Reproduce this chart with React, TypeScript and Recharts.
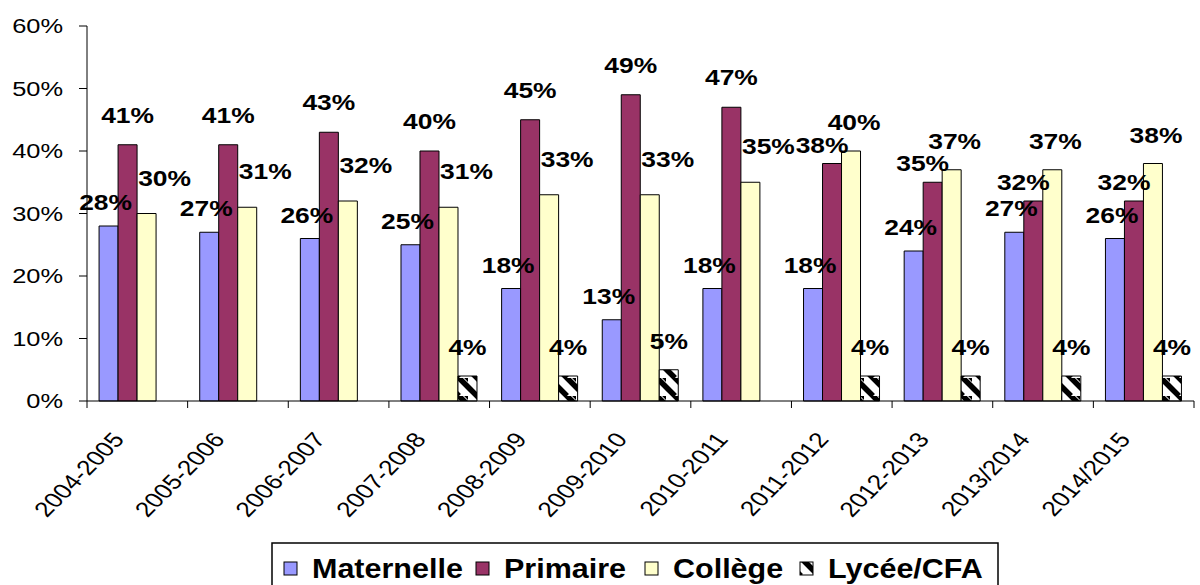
import React from 'react';
import { BarChart, Bar, XAxis, YAxis, LabelList } from 'recharts';

const years = ['2004-2005', '2005-2006', '2006-2007', '2007-2008', '2008-2009', '2009-2010', '2010-2011', '2011-2012', '2012-2013', '2013/2014', '2014/2015'];
const maternelle = [28, 27, 26, 25, 18, 13, 18, 18, 24, 27, 26];
const primaire = [41, 41, 43, 40, 45, 49, 47, 38, 35, 32, 32];
const college = [30, 31, 32, 31, 33, 33, 35, 40, 37, 37, 38];
const lycee = [null, null, null, 4, 4, 5, null, 4, 4, 4, 4];
const yTicks = [0, 10, 20, 30, 40, 50, 60];

const data = years.map((year, i) => ({
  year,
  maternelle: maternelle[i],
  primaire: primaire[i],
  college: college[i],
  lycee: lycee[i],
}));

const FONT = "'Liberation Sans', Arial, sans-serif";
const PLOT_LEFT = 87;
const PLOT_RIGHT = 1194;
const BAND = (PLOT_RIGHT - PLOT_LEFT) / years.length;

const YTick = (props: any) => {
  const { x, y, payload } = props;
  return (
    <text
      transform={`translate(${x},${y + 7}) scale(1.27,1)`}
      textAnchor="end"
      fontSize={20}
      fontFamily={FONT}
      fill="#000"
    >
      {payload.value}%
    </text>
  );
};

const XTick = (props: any) => {
  const { x, y, payload, index } = props;
  const left = x - BAND / 2;
  return (
    <g>
      <line x1={left} y1={y} x2={left} y2={y + 7} stroke="#000" />
      {index === years.length - 1 && <line x1={x + BAND / 2} y1={y} x2={x + BAND / 2} y2={y + 7} stroke="#000" />}
      <text
        transform={`translate(${x - 12},${y + 39}) scale(1.25,1) rotate(-51.3)`}
        textAnchor="end"
        fontSize={21}
        fontFamily={FONT}
        fill="#000"
      >
        {payload.value}
      </text>
    </g>
  );
};

const labelText = (cx: number, cy: number, value: number) => (
  <text
    transform={`translate(${cx},${cy}) scale(1.2,1)`}
    textAnchor="middle"
    fontSize={22}
    fontWeight="bold"
    fontFamily={FONT}
    fill="#000"
  >
    {value}%
  </text>
);

// Excel nudges labels sideways when the neighbouring bar is taller
const collegeTaller = (i: number) => college[i] >= primaire[i];

const MaternelleLabel = (props: any) => {
  const { x, y, width, value } = props;
  return labelText(x + width / 2 - 3, y - 16, value);
};

const PrimaireLabel = (props: any) => {
  const { x, y, width, value, index } = props;
  if (collegeTaller(index)) return labelText(x + width / 2 - 10, y - 11, value);
  return labelText(x + width / 2, y - 22, value);
};

const CollegeLabel = (props: any) => {
  const { x, y, width, value, index } = props;
  if (collegeTaller(index)) return labelText(x + width / 2 + 3, y - 21, value);
  return labelText(x + width / 2 + 18, y - 28, value);
};

const LyceeLabel = (props: any) => {
  const { x, y, width, value } = props;
  if (value === null || value === undefined) return null;
  return labelText(x + width / 2, y - 21, value);
};

const legendItems = [
  { label: 'Maternelle', fill: '#9999FF', x: 284 },
  { label: 'Primaire', fill: '#993366', x: 476 },
  { label: 'Collège', fill: '#FFFFCC', x: 645 },
  { label: 'Lycée/CFA', fill: 'url(#lyceeHatch)', x: 800 },
];

export default function App() {
  return (
    <div style={{ position: 'absolute', left: 0, top: 0, width: 1200, height: 585, background: '#fff' }}>
      <svg width={0} height={0} style={{ position: 'absolute' }}>
        <defs>
          <pattern id="lyceeHatch" patternUnits="userSpaceOnUse" width={18} height={18}>
            <rect width={18} height={18} fill="#fff" />
            <path d="M-9,0 L9,18 M0,-9 L27,18 M9,-9 L27,9" stroke="#000" strokeWidth={5.5} />
          </pattern>
        </defs>
      </svg>
      <BarChart
        width={1200}
        height={585}
        data={data}
        margin={{ top: 26, right: 6, left: 0, bottom: 84 }}
        barCategoryGap="12%"
        barGap={0}
      >
        <XAxis
          dataKey="year"
          interval={0}
          height={100}
          tickSize={0}
          tickMargin={0}
          axisLine={{ stroke: '#000' }}
          tick={<XTick />}
        />
        <YAxis
          width={87}
          domain={[0, 60]}
          ticks={yTicks}
          interval={0}
          tickSize={8}
          tickMargin={16}
          axisLine={{ stroke: '#000' }}
          tickLine={{ stroke: '#000' }}
          tick={<YTick />}
        />
        <Bar dataKey="maternelle" fill="#9999FF" stroke="#000" strokeWidth={1} isAnimationActive={false}>
          <LabelList dataKey="maternelle" content={<MaternelleLabel />} />
        </Bar>
        <Bar dataKey="primaire" fill="#993366" stroke="#000" strokeWidth={1} isAnimationActive={false}>
          <LabelList dataKey="primaire" content={<PrimaireLabel />} />
        </Bar>
        <Bar dataKey="college" fill="#FFFFCC" stroke="#000" strokeWidth={1} isAnimationActive={false}>
          <LabelList dataKey="college" content={<CollegeLabel />} />
        </Bar>
        <Bar dataKey="lycee" fill="url(#lyceeHatch)" stroke="#000" strokeWidth={1} isAnimationActive={false}>
          <LabelList dataKey="lycee" content={<LyceeLabel />} />
        </Bar>
      </BarChart>
      <svg width={1200} height={585} style={{ position: 'absolute', left: 0, top: 0, pointerEvents: 'none' }}>
        <rect x={272} y={543} width={726} height={60} fill="#fff" stroke="#000" strokeWidth={1.5} />
        {legendItems.map((item) => (
          <g key={item.label}>
            <rect x={item.x} y={562} width={13} height={13} fill={item.fill} stroke="#000" strokeWidth={1} />
            <text
              transform={`translate(${item.x + 28},578) scale(1.09,1)`}
              fontSize={28}
              fontWeight="bold"
              fontFamily={FONT}
              fill="#000"
            >
              {item.label}
            </text>
          </g>
        ))}
      </svg>
    </div>
  );
}
